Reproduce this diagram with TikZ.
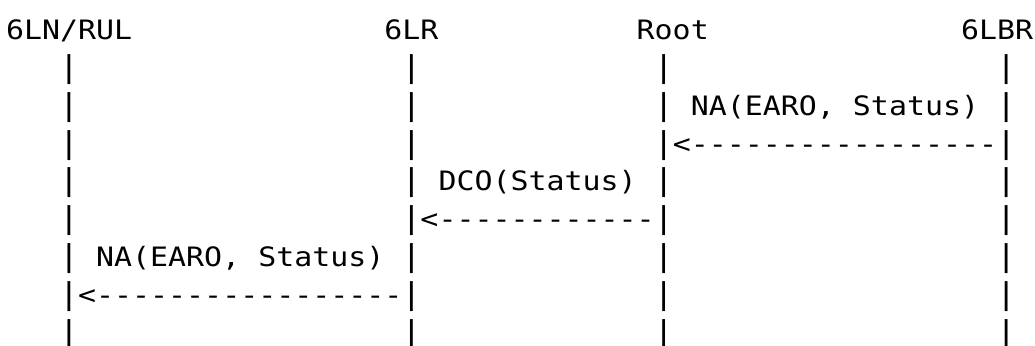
\documentclass[tikz,border=0pt]{standalone}
\usepackage{fontspec}
\newfontfamily\asciifont{DejaVu Sans Mono}[FakeStretch=1.12]
\begin{document}
\begin{tikzpicture}[x=18.02pt, y=-37.9pt,
  txt/.style={anchor=base west, inner sep=0pt, outer sep=0pt,
    font=\asciifont\fontsize{26.7pt}{30pt}\selectfont, text=black},
  barglyph/.style={anchor=base, inner sep=0pt, outer sep=0pt,
    font=\asciifont\fontsize{30pt}{32pt}\selectfont, text=black}]
\useasboundingbox (-0.333,-0.037) rectangle (57.1,9.066);
% headers
\node[txt] (n6ln)  at (0,1)  {6LN/RUL};
\node[txt] (n6lr)  at (21,1) {6LR};
\node[txt] (nroot) at (35,1) {Root};
\node[txt] (n6lbr) at (53,1) {6LBR};
% lifelines
\foreach \r in {2,...,9}
  \foreach \c in {3,22,36,55}
    \node[barglyph] (bar-\c-\r) at (\c+0.5,\r) {|};
% message 1: 6LBR -> Root
\node[txt] (m1a) at (38,3) {NA(EARO,};
\node[txt] (m1b) at (47,3) {Status)};
\node[txt] (a1) at (37,4) {<};
\foreach \c in {38,...,54} \node[txt] (d1-\c) at (\c,4) {-};
% message 2: Root -> 6LR
\node[txt] (m2) at (24,5) {DCO(Status)};
\node[txt] (a2) at (23,6) {<};
\foreach \c in {24,...,35} \node[txt] (d2-\c) at (\c,6) {-};
% message 3: 6LR -> 6LN
\node[txt] (m3a) at (5,7) {NA(EARO,};
\node[txt] (m3b) at (14,7) {Status)};
\node[txt] (a3) at (4,8) {<};
\foreach \c in {5,...,21} \node[txt] (d3-\c) at (\c,8) {-};
\end{tikzpicture}
\end{document}
